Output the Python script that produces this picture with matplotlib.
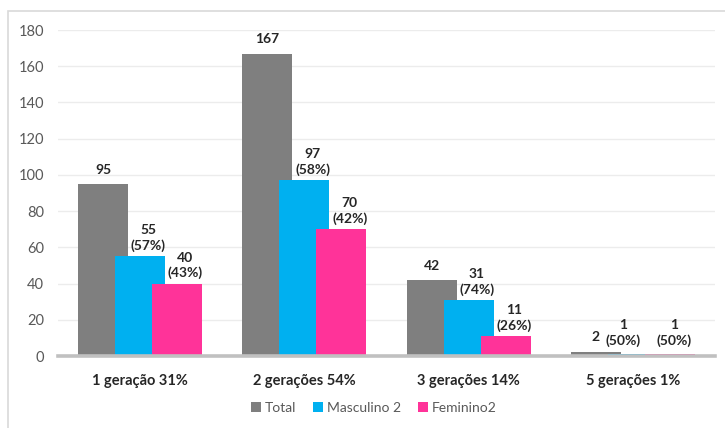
import numpy as np
import matplotlib.pyplot as plt
from matplotlib.patches import Rectangle

categorias = ['1 geração 31%', '2 gerações 54%', '3 gerações 14%', '5 gerações 1%']
total = [95, 167, 42, 2]
masculino = [55, 97, 31, 1]
feminino = [40, 70, 11, 1]
pct_masc = [57, 58, 74, 50]
pct_fem = [43, 42, 26, 50]

cor_total = '#7f7f7f'
cor_masc = '#00b0f0'
cor_fem = '#ff3399'

plt.rcParams['font.family'] = ['Lato', 'DejaVu Sans']

fig = plt.figure(figsize=(7.25, 4.28), dpi=100)
# borda externa do gráfico
fig.patches.append(Rectangle((8/725, -0.1), 1.2, 1 - 11/428 + 0.1, transform=fig.transFigure,
                             fill=False, edgecolor='#d9d9d9', linewidth=1.2))
ax = fig.add_axes([58/725, 1 - 356/428, 657/725, 326/428])

x = np.arange(len(categorias))
w = 0.305
d = 0.225
b1 = ax.bar(x - d, total, w, color=cor_total, zorder=2)
b2 = ax.bar(x, masculino, w, color=cor_masc, zorder=3)
b3 = ax.bar(x + d, feminino, w, color=cor_fem, zorder=4)

ax.set_xlim(-0.5, 3.5)
ax.set_ylim(0, 180)
ax.set_yticks(np.arange(0, 181, 20))
ax.grid(axis='y', color='#ececec', linewidth=1, zorder=0)
ax.set_axisbelow(True)
for s in ['top', 'right', 'left']:
    ax.spines[s].set_visible(False)
ax.spines['bottom'].set_color('#c0c0c0')
ax.spines['bottom'].set_linewidth(2.6)
ax.spines['bottom'].set_zorder(5)
ax.tick_params(axis='y', length=0, pad=10, labelsize=10.5, labelcolor='#595959')
ax.tick_params(axis='x', length=0, pad=13, labelsize=10.5)
ax.set_xticks(x)
ax.set_xticklabels(categorias, fontweight='bold', color='#262626')

rotulo = dict(ha='center', va='bottom', fontsize=10, fontweight='bold', color='#262626',
              linespacing=1.3, textcoords='offset points', zorder=6)

for i in range(len(categorias)):
    ultimo = i == len(categorias) - 1
    # total
    dy_t = 7 if ultimo else 6
    ax.annotate(str(total[i]), (x[i] - d, total[i]), xytext=(0, dy_t), **rotulo)
    # masculino e feminino com percentual
    dx_m, dx_f = (-7, 3) if ultimo else (6, 6)
    dy = 5 if ultimo else 3
    ax.annotate('%d\n(%d%%)' % (masculino[i], pct_masc[i]), (x[i], masculino[i]),
                xytext=(dx_m, dy), **rotulo)
    ax.annotate('%d\n(%d%%)' % (feminino[i], pct_fem[i]), (x[i] + d, feminino[i]),
                xytext=(dx_f, dy), **rotulo)

leg = fig.legend([b1, b2, b3], ['Total', 'Masculino 2', 'Feminino2'],
                 loc='center', bbox_to_anchor=(374/725, 1 - 408/428), ncol=3,
                 frameon=False, fontsize=10, handlelength=0.7, handleheight=0.7,
                 handletextpad=0.3, columnspacing=1.2)
for t in leg.get_texts():
    t.set_color('#595959')

fig.savefig('out.png', dpi=100)
